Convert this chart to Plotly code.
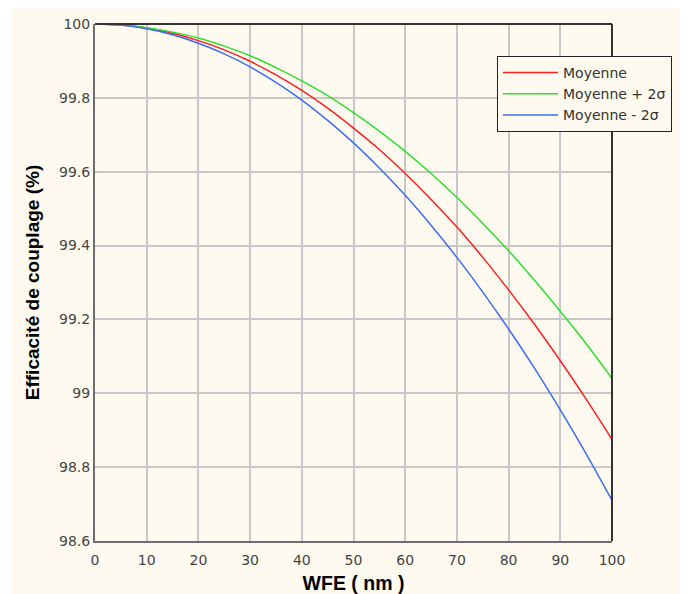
import plotly.graph_objects as go

wfe = [0, 5, 10, 15, 20, 25, 30, 35, 40, 45, 50, 55, 60, 65, 70, 75, 80, 85, 90, 95, 100]
moyenne = [100, 99.997, 99.989, 99.975, 99.955, 99.93, 99.899, 99.862, 99.82, 99.772, 99.718,
           99.66, 99.595, 99.525, 99.45, 99.368, 99.28, 99.187, 99.088, 98.984, 98.875]
moyenne_plus = [100, 99.998, 99.99, 99.978, 99.962, 99.94, 99.914, 99.882, 99.846, 99.806, 99.76,
                99.71, 99.655, 99.595, 99.53, 99.46, 99.386, 99.306, 99.222, 99.134, 99.04]
moyenne_moins = [100, 99.997, 99.987, 99.971, 99.948, 99.919, 99.884, 99.842, 99.794, 99.739, 99.678,
                 99.61, 99.536, 99.455, 99.368, 99.274, 99.174, 99.068, 98.955, 98.836, 98.71]

names = ["Moyenne", "Moyenne + 2σ", "Moyenne - 2σ"]
colors = ["#FF1F1F", "#2EE02E", "#3D6CF5"]
series = [moyenne, moyenne_plus, moyenne_moins]

cream = "#FEFAEF"
fig = go.Figure()
for n, c, s in zip(names, colors, series):
    fig.add_trace(go.Scatter(x=wfe, y=s, mode="lines", name=n,
                             line=dict(color=c, width=1.5, shape="spline")))

# page body has an 8px margin, so the figure is drawn at (8, 8)
W, H = 680, 586
L, R, T, B = 87, 76, 16, 53
pw, ph = W - L - R, H - T - B

fig.update_layout(
    width=W, height=H,
    margin=dict(l=L, r=R, t=T, b=B, pad=0),
    paper_bgcolor=cream, plot_bgcolor=cream,
    font=dict(family="DejaVu Sans", size=13, color="#333333"),
    legend=dict(x=(489 - L) / pw, y=(H - B - 48) / ph, xanchor="left", yanchor="top",
                bgcolor=cream, bordercolor="#222222", borderwidth=1,
                font=dict(family="DejaVu Sans", size=14, color="#333333"),
                tracegroupgap=0, itemwidth=55),
    xaxis=dict(range=[0, 100], dtick=10, tick0=0, showgrid=True, gridcolor="#C8C8C8", gridwidth=1.5,
               showline=True, linecolor="#6E6E6E", linewidth=2, ticks="outside", ticklen=5,
               tickcolor="rgba(0,0,0,0)", zeroline=False, automargin=False,
               title=dict(text="<b>WFE ( nm )</b>", font=dict(family="Liberation Sans", size=19.5, color="#000000"),
                          standoff=10),
               tickfont=dict(family="DejaVu Sans", size=14, color="#444444")),
    yaxis=dict(range=[98.6, 100], dtick=0.2, tick0=98.6, showgrid=True, gridcolor="#C8C8C8", gridwidth=1.5,
               showline=True, linecolor="#6E6E6E", linewidth=2, ticks="", zeroline=False, automargin=False,
               title=dict(text="<b>Efficacité de couplage (%)</b>",
                          font=dict(family="Liberation Sans", size=19, color="#000000"), standoff=14),
               tickfont=dict(family="DejaVu Sans", size=14, color="#444444")),
    shapes=[
        dict(type="line", xref="paper", yref="paper", x0=0, x1=1, y0=1, y1=1,
             line=dict(color="#333333", width=2)),
        dict(type="line", xref="paper", yref="paper", x0=1, x1=1, y0=0, y1=1,
             line=dict(color="#333333", width=2)),
        dict(type="rect", xref="paper", yref="paper", x0=-L / pw - 0.05, x1=(4 - L) / pw,
             y0=-B / ph - 0.05, y1=(H - B) / ph + 0.05, fillcolor="#FFFFFF", line=dict(width=0), layer="below"),
    ],
)

fig.write_html("out.html")
